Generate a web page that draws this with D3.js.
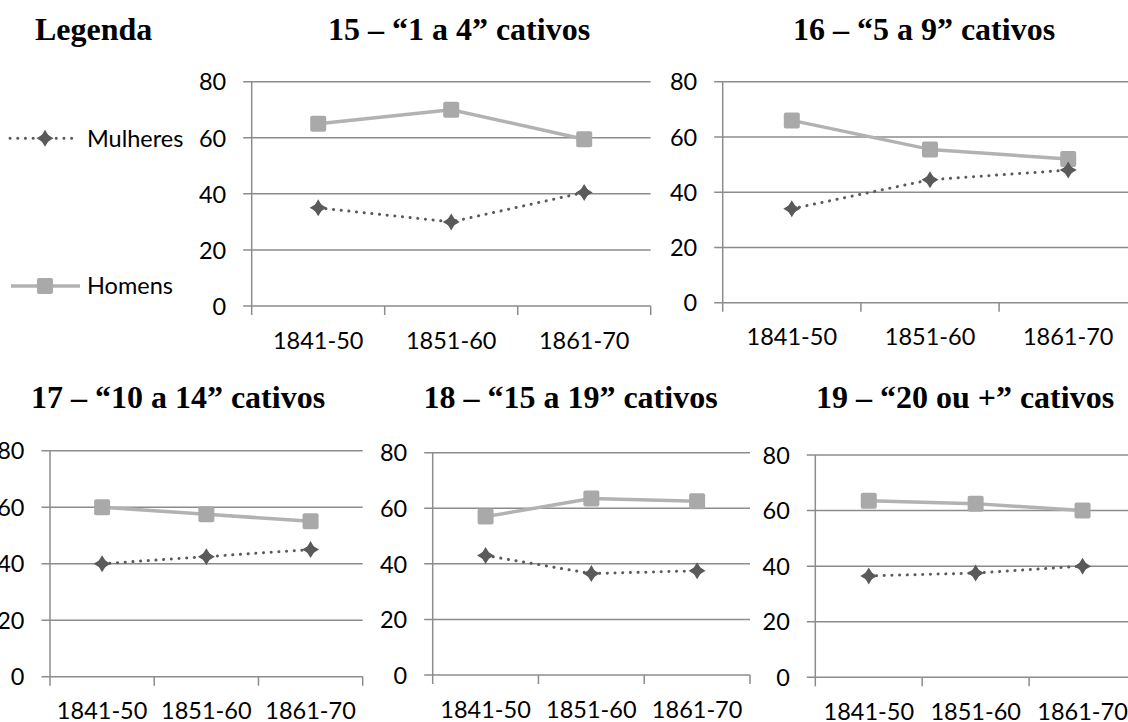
<!DOCTYPE html>
<html>
<head>
<meta charset="utf-8">
<script src="https://cdn.jsdelivr.net/npm/d3@7"></script>
<style>
  html, body { margin: 0; padding: 0; background: #fff; overflow: hidden; }
  svg { display: block; }
</style>
</head>
<body>
<svg id="chart" width="1128" height="722"></svg>
<script>
// Periods on the x axis
const categories = ["1841-50", "1851-60", "1861-70"];
// Y axis tick values (percent)
const yTicks = [0, 20, 40, 60, 80];

// Panel titles (slaveholding size groups)
const titles = [
  "15 – “1 a 4” cativos",
  "16 – “5 a 9” cativos",
  "17 – “10 a 14” cativos",
  "18 – “15 a 19” cativos",
  "19 – “20 ou +” cativos"
];

// Share of men (%) per panel
const homens = [
  [65, 70, 59.5],
  [66, 55.5, 52],
  [60, 57.5, 55],
  [57, 63.5, 62.5],
  [63.5, 62.5, 60]
];
// Share of women (%) per panel
const mulheres = [
  [35, 30, 40.5],
  [34, 44.5, 48],
  [40, 42.5, 45],
  [43, 36.5, 37.5],
  [36.5, 37.5, 40]
];

const seriesNames = ["Mulheres", "Homens"];

// Panel frames: plot area edges and title placement
const frames = [
  { x0: 251.7, x1: 650.7, y0: 306,   y1: 81.7,  tx: 459, ty: 40 },
  { x0: 722.7, x1: 1137.3, y0: 302.7, y1: 81.7,  tx: 924, ty: 40 },
  { x0: 50,    x1: 362.7, y0: 676.7, y1: 450.7, tx: 178, ty: 408 },
  { x0: 432.7, x1: 750,   y0: 675,   y1: 452.7, tx: 570.5, ty: 408 },
  { x0: 815.3, x1: 1136,  y0: 677.3, y1: 455,   tx: 965, ty: 408 }
];

const GRID = "#8c8c8c";
const MEN = "#b2b2b2";
const MEN_MARK = "#a9a9a9";
const WOMEN = "#5a5a5a";
const SANS = "Lato, 'Open Sans', sans-serif";
const SERIF = "'Liberation Serif', 'Times New Roman', serif";

const svg = d3.select("#chart");

// four-pointed star marker used for the women's series
function starPath(cx, cy) {
  const a = 8.5, w = 3.2, d = 5;
  return `M${cx},${cy - a} L${cx + w},${cy - w} L${cx + d + 1},${cy - 1.5} L${cx + a},${cy} ` +
         `L${cx + d + 1},${cy + 1.5} L${cx + w},${cy + w} L${cx},${cy + a} L${cx - w},${cy + w} ` +
         `L${cx - d - 1},${cy + 1.5} L${cx - a},${cy} L${cx - d - 1},${cy - 1.5} L${cx - w},${cy - w} Z`;
}

function drawWomenMarker(g, cx, cy) {
  g.append("path").attr("d", starPath(cx, cy)).attr("fill", WOMEN);
  g.append("rect").attr("x", cx - 4.5).attr("y", cy - 4.5).attr("width", 9).attr("height", 9)
    .attr("fill", WOMEN).attr("transform", `rotate(45,${cx},${cy})`);
}
function drawMenMarker(g, cx, cy) {
  g.append("rect").attr("x", cx - 8).attr("y", cy - 8).attr("width", 16).attr("height", 16)
    .attr("rx", 2).attr("fill", MEN_MARK);
}

frames.forEach((f, i) => {
  const g = svg.append("g");
  const x = d3.scaleBand().domain(categories).range([f.x0, f.x1]).paddingInner(0).paddingOuter(0);
  const y = d3.scaleLinear().domain([0, 80]).range([f.y0, f.y1]);
  const cx = d => x(d) + x.bandwidth() / 2;

  // horizontal gridlines with a short stub left of the axis
  g.selectAll("line.grid").data(yTicks).join("line")
    .attr("x1", f.x0 - 8.5).attr("x2", f.x1)
    .attr("y1", d => y(d)).attr("y2", d => y(d))
    .attr("stroke", GRID).attr("stroke-width", 1.5);

  // vertical axis line
  g.append("line").attr("x1", f.x0).attr("x2", f.x0).attr("y1", f.y1).attr("y2", f.y0 + 9)
    .attr("stroke", GRID).attr("stroke-width", 1.5);

  // category boundary ticks below the baseline
  const edges = categories.map(c => x(c)).concat([f.x1]);
  g.selectAll("line.tick").data(edges.slice(1)).join("line")
    .attr("x1", d => d).attr("x2", d => d).attr("y1", f.y0).attr("y2", f.y0 + 9)
    .attr("stroke", GRID).attr("stroke-width", 1.5);

  // y tick labels
  const yAxis = d3.axisLeft(y).tickValues(yTicks).tickSize(0).tickPadding(25.5);
  const ya = g.append("g").attr("transform", `translate(${f.x0},0)`).call(yAxis);
  ya.select(".domain").remove();
  ya.selectAll("text").attr("font-family", SANS).attr("font-size", 23.5).attr("fill", "#000")
    .attr("dy", "0.35em");

  // x tick labels
  const xAxis = d3.axisBottom(x).tickSize(0).tickPadding(0);
  const xa = g.append("g").attr("transform", `translate(0,${f.y0})`).call(xAxis);
  xa.select(".domain").remove();
  xa.selectAll("text").attr("font-family", SANS).attr("font-size", 23.5).attr("fill", "#000")
    .attr("y", 42.5).attr("dy", 0);

  // men: solid light line with square markers
  const line = d3.line().x((d, k) => cx(categories[k])).y(d => y(d));
  g.append("path").attr("d", line(homens[i])).attr("fill", "none")
    .attr("stroke", MEN).attr("stroke-width", 3.5).attr("stroke-linejoin", "round");
  homens[i].forEach((v, k) => drawMenMarker(g, cx(categories[k]), y(v)));

  // women: dotted dark line with star markers
  g.append("path").attr("d", line(mulheres[i])).attr("fill", "none")
    .attr("stroke", WOMEN).attr("stroke-width", 3).attr("stroke-linecap", "round")
    .attr("stroke-dasharray", "0.1,7.6");
  mulheres[i].forEach((v, k) => drawWomenMarker(g, cx(categories[k]), y(v)));

  // panel title
  svg.append("text").attr("x", f.tx).attr("y", f.ty).attr("text-anchor", "middle")
    .attr("font-family", SERIF).attr("font-weight", "bold").attr("font-size", 32)
    .attr("fill", "#000").text(titles[i]);
});

// legend
svg.append("text").attr("x", 35).attr("y", 40)
  .attr("font-family", SERIF).attr("font-weight", "bold").attr("font-size", 32)
  .attr("fill", "#000").text("Legenda");

const leg = svg.append("g");
const legRows = [{ name: seriesNames[0], y: 138.3 }, { name: seriesNames[1], y: 286 }];
// women row
leg.append("line").attr("x1", 10).attr("x2", 76).attr("y1", legRows[0].y).attr("y2", legRows[0].y)
  .attr("stroke", WOMEN).attr("stroke-width", 3).attr("stroke-linecap", "round")
  .attr("stroke-dasharray", "0.1,7.6");
drawWomenMarker(leg, 45, legRows[0].y);
// men row
leg.append("line").attr("x1", 11).attr("x2", 80).attr("y1", legRows[1].y).attr("y2", legRows[1].y)
  .attr("stroke", MEN).attr("stroke-width", 3.5);
drawMenMarker(leg, 45, legRows[1].y);

leg.selectAll("text.lbl").data(legRows).join("text")
  .attr("x", 87).attr("y", d => d.y).attr("dy", "0.35em")
  .attr("font-family", SANS).attr("font-size", 23.5).attr("fill", "#000")
  .text(d => d.name);
</script>
</body>
</html>
